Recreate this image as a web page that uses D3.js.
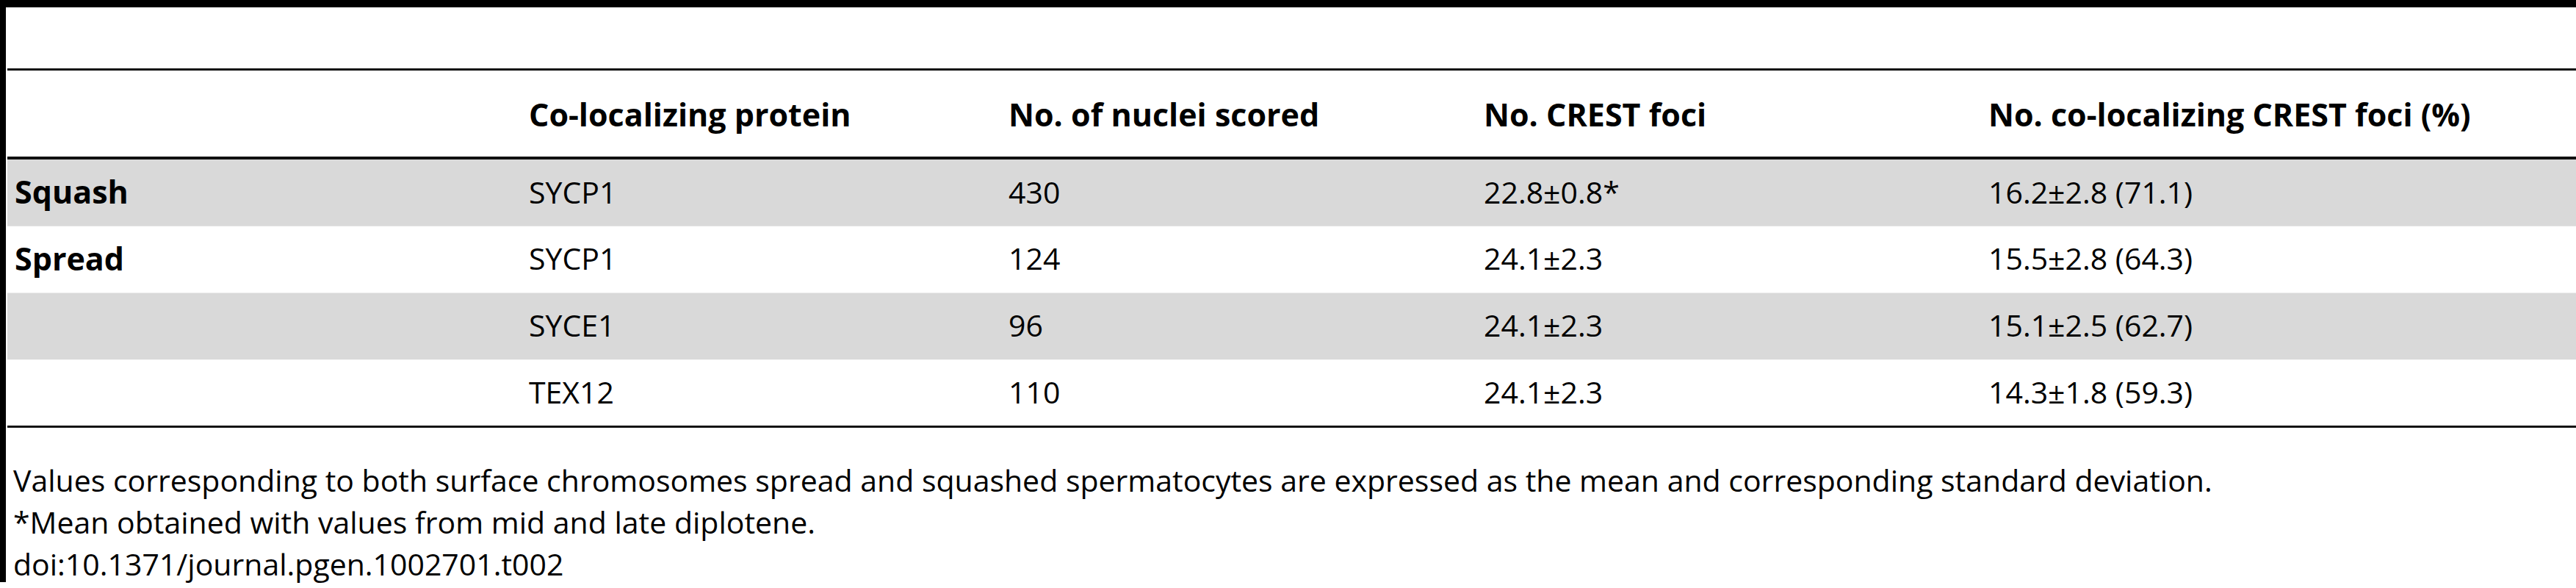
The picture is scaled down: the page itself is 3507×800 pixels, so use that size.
<!DOCTYPE html>
<html><head><meta charset="utf-8">
<script src="https://cdn.jsdelivr.net/npm/d3@7"></script>
<style>body{margin:0;background:#fff}svg{display:block}</style>
</head><body><div id="chart"></div>
<script>
const headers = ["", "Co-localizing protein", "No. of nuclei scored", "No. CREST foci", "No. co-localizing CREST foci (%)"];
const groups = ["Squash", "Spread", "", ""];
const proteins = ["SYCP1", "SYCP1", "SYCE1", "TEX12"];
const nuclei = ["430", "124", "96", "110"];
const crestFoci = ["22.8\u00b10.8*", "24.1\u00b12.3", "24.1\u00b12.3", "24.1\u00b12.3"];
const coloc = ["16.2\u00b12.8 (71.1)", "15.5\u00b12.8 (64.3)", "15.1\u00b12.5 (62.7)", "14.3\u00b11.8 (59.3)"];
const notes = [
  "Values corresponding to both surface chromosomes spread and squashed spermatocytes are expressed as the mean and corresponding standard deviation.",
  "*Mean obtained with values from mid and late diplotene.",
  "doi:10.1371/journal.pgen.1002701.t002"
];

const W = 3507, H = 800, font = "'Open Sans', sans-serif", fs = 41;
const svg = d3.select("#chart").append("svg").attr("width", W).attr("height", H)
  .style("font-family", font).style("font-size", fs + "px");

const colX = d3.scaleOrdinal().domain(d3.range(5)).range([20, 720, 1373, 2020, 2707]);
const rowY = d3.scaleBand().domain(d3.range(4)).range([217, 580]);

// stripes
svg.selectAll("rect.stripe").data(d3.range(4).filter(i => i % 2 === 0)).join("rect")
  .attr("x", 10).attr("width", W - 10).attr("y", d => rowY(d)).attr("height", rowY.bandwidth())
  .attr("fill", "#d9d9d9");

// rules
svg.append("rect").attr("x", 0).attr("y", 0).attr("width", W).attr("height", 10).attr("fill", "#000");
svg.append("rect").attr("x", 0).attr("y", 0).attr("width", 8).attr("height", 792).attr("fill", "#000");
[[93, 3], [213, 4], [579, 3]].forEach(([y, h]) =>
  svg.append("rect").attr("x", 10).attr("y", y).attr("width", W - 10).attr("height", h).attr("fill", "#111"));

// header
svg.selectAll("text.hdr").data(headers).join("text")
  .attr("x", (d, i) => colX(i)).attr("y", 157).attr("dy", "0.35em")
  .attr("font-size", 43).attr("font-weight", "bold").text(d => d);

const cols = [groups, proteins, nuclei, crestFoci, coloc];
cols.forEach((col, c) => {
  svg.selectAll("text.c" + c).data(col).join("text")
    .attr("x", colX(c)).attr("y", (d, i) => rowY(i) + rowY.bandwidth() / 2).attr("dy", "0.35em")
    .attr("font-size", c === 0 ? 43 : fs)
    .attr("font-weight", c === 0 ? "bold" : "normal").text(d => d);
});

svg.selectAll("text.note").data(notes).join("text")
  .attr("x", 18).attr("y", (d, i) => 655 + i * 57).attr("dy", "0.35em").text(d => d);
</script></body></html>
